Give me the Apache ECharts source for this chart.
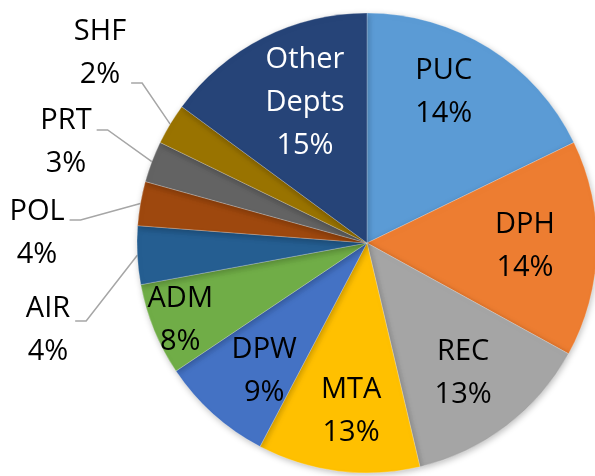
<!DOCTYPE html>
<html>
<head>
<meta charset="utf-8">
<script src="https://cdn.jsdelivr.net/npm/echarts@6/dist/echarts.min.js"></script>
<style>
  html, body { margin: 0; padding: 0; background: #fff; }
  #chart { width: 595px; height: 476px; }
</style>
</head>
<body>
<div id="chart"></div>
<script>
(function () {
  /* ========== data ========== */
  const depts = ["PUC", "DPH", "REC", "MTA", "DPW", "ADM", "AIR", "POL", "PRT", "SHF", "Other Depts"];
  // slice sizes as drawn
  const shares = [17.8, 15.2, 13.3, 11.4, 7.9, 6.5, 4.1, 3.1, 2.9, 2.9, 14.9];
  // percentages printed on the labels
  const pctText = ["14%", "14%", "13%", "13%", "9%", "8%", "4%", "4%", "3%", "2%", "15%"];
  const colors = ["#5B9BD5", "#ED7D31", "#A5A5A5", "#FFC000", "#4472C4", "#70AD47",
                  "#255E91", "#9E480E", "#636363", "#997300", "#264478"];

  /* ========== layout ========== */
  const cx = 367, cy = 243, R = 230;
  const FONT = "29px 'Open Sans'";
  // outside labels: [text centre x, text centre y, leader elbow y]
  const outside = {
    AIR: [48, 330, 321], POL: [37, 233, 220], PRT: [66, 142, 130], SHF: [100, 53, 83]
  };
  const gap = 5; // space between text and leader line
  // inside labels: [radius, angle from top clockwise]
  const inside = {
    PUC: [169, 27], DPH: [158, 91], REC: [162, 143.6], MTA: [169, 185.4],
    DPW: [164, 218.8], ADM: [202, 247.6], "Other Depts": [153, 336.1]
  };

  const ctx = document.createElement("canvas").getContext("2d");
  ctx.font = FONT;
  const textW = (s) => ctx.measureText(s).width;

  // outside label: empty spacer line so the box middle sits on the leader elbow
  function outLabel(d, i) {
    const o = outside[d];
    const shift = o[2] - o[1];
    const h = Math.max(1, Math.abs(shift) * 2);
    const w = Math.max(textW(d), textW(pctText[i])) + 2 * gap;
    const body = "{n|" + d + "}\n{n|" + pctText[i] + "}";
    return {
      position: "outside",
      color: "#000",
      formatter: shift > 0 ? body + "\n{s| }" : "{s| }\n" + body,
      rich: {
        n: { fontFamily: "Open Sans", fontSize: 29, lineHeight: 43, color: "#000", align: "center" },
        s: { fontSize: 1, lineHeight: h, height: h, width: w, align: "center" }
      }
    };
  }

  const chart = echarts.init(document.getElementById("chart"), null, { renderer: "canvas" });

  chart.setOption({
    animation: false,
    series: [{
      type: "pie",
      center: [cx, cy],
      radius: [0, R],
      startAngle: 90,
      clockwise: true,
      avoidLabelOverlap: false,
      data: depts.map((d, i) => ({
        name: d,
        value: shares[i],
        itemStyle: { color: colors[i] },
        label: outside[d]
          ? outLabel(d, i)
          : { position: "inside", color: d === "Other Depts" ? "#fff" : "#000" },
        labelLine: { show: !!outside[d] }
      })),
      itemStyle: {
        borderColor: "rgba(255,255,255,0.5)",
        borderWidth: 0.5,
        shadowBlur: 6,
        shadowColor: "rgba(0,0,0,0.25)",
        shadowOffsetX: 1,
        shadowOffsetY: 2
      },
      label: {
        fontFamily: "Open Sans",
        fontSize: 29,
        lineHeight: 43,
        align: "center",
        formatter: (p) => p.name.replace(" ", "\n") + "\n" + pctText[p.dataIndex]
      },
      labelLine: {
        length: 20,
        length2: 11,
        lineStyle: { color: "#A6A6A6", width: 1.5 }
      },
      labelLayout: function (p) {
        const d = depts[p.dataIndex];
        if (outside[d]) {
          return { x: outside[d][0], y: outside[d][2], align: "center", verticalAlign: "middle" };
        }
        const r = inside[d][0], a = inside[d][1] * Math.PI / 180;
        return { x: cx + r * Math.sin(a), y: cy - r * Math.cos(a), align: "center", verticalAlign: "middle" };
      }
    }]
  });
})();
</script>
</body>
</html>
